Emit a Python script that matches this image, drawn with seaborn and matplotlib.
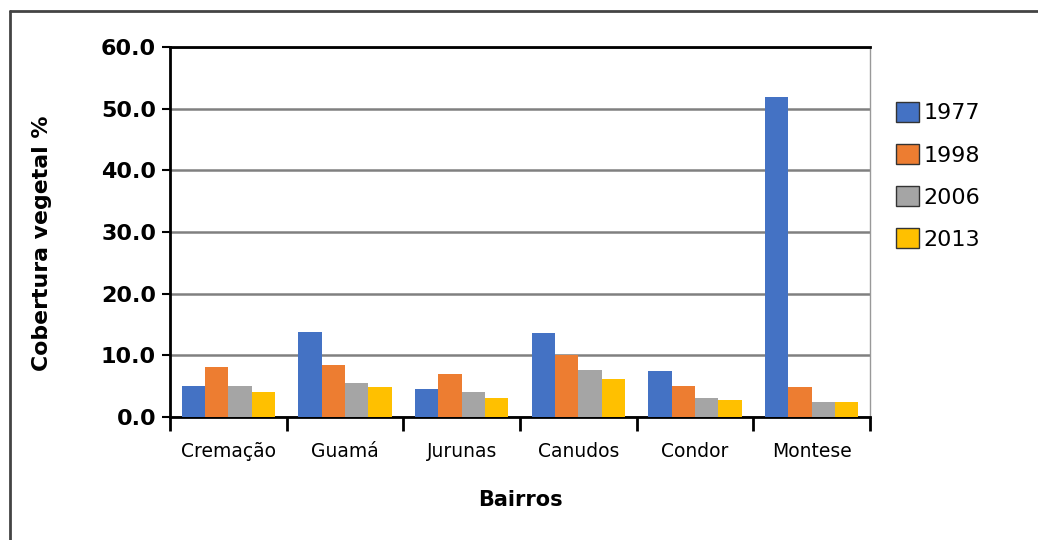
import matplotlib
matplotlib.use("Agg")
import matplotlib.pyplot as plt
from matplotlib.patches import Patch
from matplotlib.lines import Line2D
import seaborn as sns
import pandas as pd

# Vegetation cover (%) per neighbourhood and year
bairros = ["Cremação", "Guamá", "Jurunas", "Canudos", "Condor", "Montese"]
anos = ["1977", "1998", "2006", "2013"]
v1977 = [5.1, 13.8, 4.6, 13.6, 7.5, 51.9]
v1998 = [8.1, 8.5, 7.0, 10.0, 5.0, 4.8]
v2006 = [5.0, 5.5, 4.0, 7.6, 3.1, 2.5]
v2013 = [4.0, 4.9, 3.1, 6.1, 2.7, 2.4]
yticks = [0, 10, 20, 30, 40, 50, 60]
cores = ["#4472C4", "#ED7D31", "#A5A5A5", "#FFC000"]

rows = []
for ano, vals in zip(anos, [v1977, v1998, v2006, v2013]):
    for b, v in zip(bairros, vals):
        rows.append({"Bairro": b, "Ano": ano, "Cobertura": v})
df = pd.DataFrame(rows)

sns.set_theme(style="white")
plt.rcParams["font.family"] = ["DejaVu Sans"]
plt.rcParams["text.color"] = "black"
plt.rcParams["axes.labelcolor"] = "black"
plt.rcParams["xtick.color"] = "black"
plt.rcParams["ytick.color"] = "black"

fig = plt.figure(figsize=(10.38, 5.40), dpi=100)
W, H = 1038, 540
ax = fig.add_axes([170 / W, 1 - 417 / H, 700 / W, 370 / H])

sns.barplot(data=df, x="Bairro", y="Cobertura", hue="Ano", order=bairros,
            hue_order=anos, palette=cores, width=0.8, saturation=1,
            linewidth=0, ax=ax, legend=False, zorder=3)

ax.set_ylim(0, 60)
ax.set_xlim(-0.5, len(bairros) - 0.5)
ax.set_yticks(yticks)
ax.set_yticklabels([f"{t:.1f}" for t in yticks], fontsize=16, fontweight="bold")
ax.yaxis.grid(True, color="#808080", linewidth=1.8, zorder=0)
ax.set_axisbelow(True)

# category labels centred, tick marks between categories
ax.set_xticks(range(len(bairros)))
ax.set_xticklabels(bairros, fontsize=13.5)
ax.tick_params(axis="x", which="major", length=0, pad=18)
ax.set_xticks([i - 0.5 for i in range(len(bairros) + 1)], minor=True)
ax.tick_params(axis="x", which="minor", length=10, width=2, color="black",
               direction="out", bottom=True)
ax.tick_params(axis="y", length=6, width=1.5, color="black", direction="out",
               left=True, pad=4)

for side in ["left", "bottom", "top"]:
    ax.spines[side].set_color("black")
    ax.spines[side].set_linewidth(2)
ax.spines["right"].set_color("#999999")
ax.spines["right"].set_linewidth(1)

ax.set_xlabel("Bairros", fontsize=15, fontweight="bold")
ax.xaxis.set_label_coords(0.5, -0.225)
ax.xaxis.label.set_va("center")
ax.set_ylabel("Cobertura vegetal %", fontsize=15.8, fontweight="bold")
ax.yaxis.set_label_coords(-0.183, 0.47)
ax.yaxis.label.set_va("center")

handles = [Patch(facecolor=c, edgecolor="#333333", linewidth=1) for c in cores]
ax.legend(handles, anos, loc="upper left", bbox_to_anchor=(1.025, 0.876),
          frameon=False, fontsize=16, handlelength=1.0, handleheight=1.0,
          handletextpad=0.22, labelspacing=0.93, borderaxespad=0)

# outer chart border
fig.add_artist(Line2D([10 / W, 1.0], [1 - 11 / H, 1 - 11 / H],
                      transform=fig.transFigure, color="#444444", linewidth=2))
fig.add_artist(Line2D([10 / W, 10 / W], [1 - 11 / H, 0.0],
                      transform=fig.transFigure, color="#444444", linewidth=2))

fig.savefig("out.png", dpi=100)
